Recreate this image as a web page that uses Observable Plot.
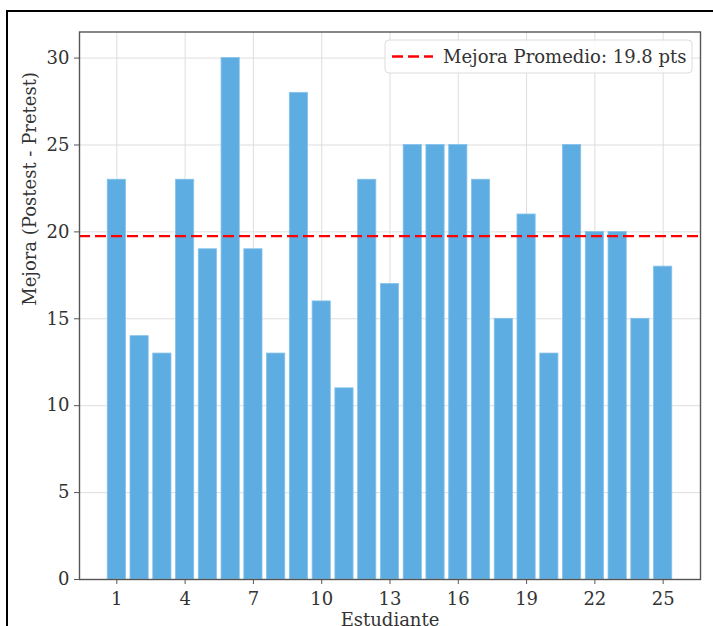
<!DOCTYPE html>
<html>
<head>
<meta charset="utf-8">
<script src="https://cdn.jsdelivr.net/npm/d3@7"></script>
<script src="https://cdn.jsdelivr.net/npm/@observablehq/plot@0.6"></script>
<style>
  html, body { margin: 0; padding: 0; background: #fff; overflow: hidden; }
  #wrap { position: relative; width: 713px; height: 626px; }
  #border { position: absolute; left: 6px; top: 10px; width: 800px; height: 800px; border: 2px solid #000; pointer-events: none; box-sizing: border-box; }
</style>
</head>
<body>
<div id="wrap"><div id="border"></div></div>
<script>
const students = [1,2,3,4,5,6,7,8,9,10,11,12,13,14,15,16,17,18,19,20,21,22,23,24,25];
const mejora   = [23,14,13,23,19,30,19,13,28,16,11,23,17,25,25,25,23,15,21,13,25,20,20,15,18];
const xTicks = [1,4,7,10,13,16,19,22,25];
const yTicks = [0,5,10,15,20,25,30];
const xLabel = "Estudiante";
const yLabel = "Mejora (Postest - Pretest)";
const legendPrefix = "Mejora Promedio: ";
const legendSuffix = " pts";

const data = students.map((s, i) => ({s, v: mejora[i]}));
const mean = d3.mean(mejora);

const font = "'DejaVu Serif', serif";
const chart = Plot.plot({
  width: 713,
  height: 626,
  marginLeft: 79,
  marginRight: 13,
  marginTop: 31.5,
  marginBottom: 47,
  x: {domain: [-0.64, 26.64]},
  y: {domain: [0, 31.5]},
  style: {fontFamily: font, fontSize: "18px", color: "#333", background: "transparent"},
  marks: [
    Plot.gridX(xTicks, {stroke: "#dedede", strokeOpacity: 1, strokeWidth: 1}),
    Plot.gridY(yTicks, {stroke: "#dedede", strokeOpacity: 1, strokeWidth: 1}),
    Plot.rect(data, {x1: d => d.s - 0.4, x2: d => d.s + 0.4, y1: 0, y2: "v", fill: "#5DADE2", stroke: "#86c3ea", strokeWidth: 0.8}),
    Plot.ruleY([mean], {stroke: "#ff0000", strokeWidth: 2.3, strokeDasharray: "11,5"}),
    Plot.frame({stroke: "#555", strokeWidth: 1.4}),
    Plot.axisX(xTicks, {tickSize: 5, tickPadding: 8, label: null, stroke: "#555", fill: "#333"}),
    Plot.axisY(yTicks, {tickSize: 5, tickPadding: 5, label: null, stroke: "#555", fill: "#333"}),
    Plot.text([xLabel], {frameAnchor: "bottom", lineAnchor: "top", dy: 34, fill: "#333"}),
    Plot.text([yLabel], {frameAnchor: "left", rotate: -90, dx: -49, fill: "#333"})
  ]
});
document.getElementById("wrap").prepend(chart);

// legend
const svg = d3.select(chart);
const g = svg.append("g").attr("class", "legend").attr("text-anchor", "start");
g.append("rect").attr("x", 385).attr("y", 40).attr("width", 307).attr("height", 33).attr("rx", 4)
  .attr("fill", "#fff").attr("fill-opacity", 0.85).attr("stroke", "#dcdcdc");
g.append("line").attr("x1", 392).attr("x2", 433).attr("y1", 56.5).attr("y2", 56.5)
  .attr("stroke", "#ff0000").attr("stroke-width", 2.3).attr("stroke-dasharray", "11,5");
g.append("text").attr("x", 443).attr("y", 56.5).attr("dy", "0.35em").attr("text-anchor", "start")
  .attr("font-family", font).attr("font-size", 18).attr("fill", "#333")
  .text(legendPrefix + d3.format(".1f")(mean) + legendSuffix);
</script>
</body>
</html>
